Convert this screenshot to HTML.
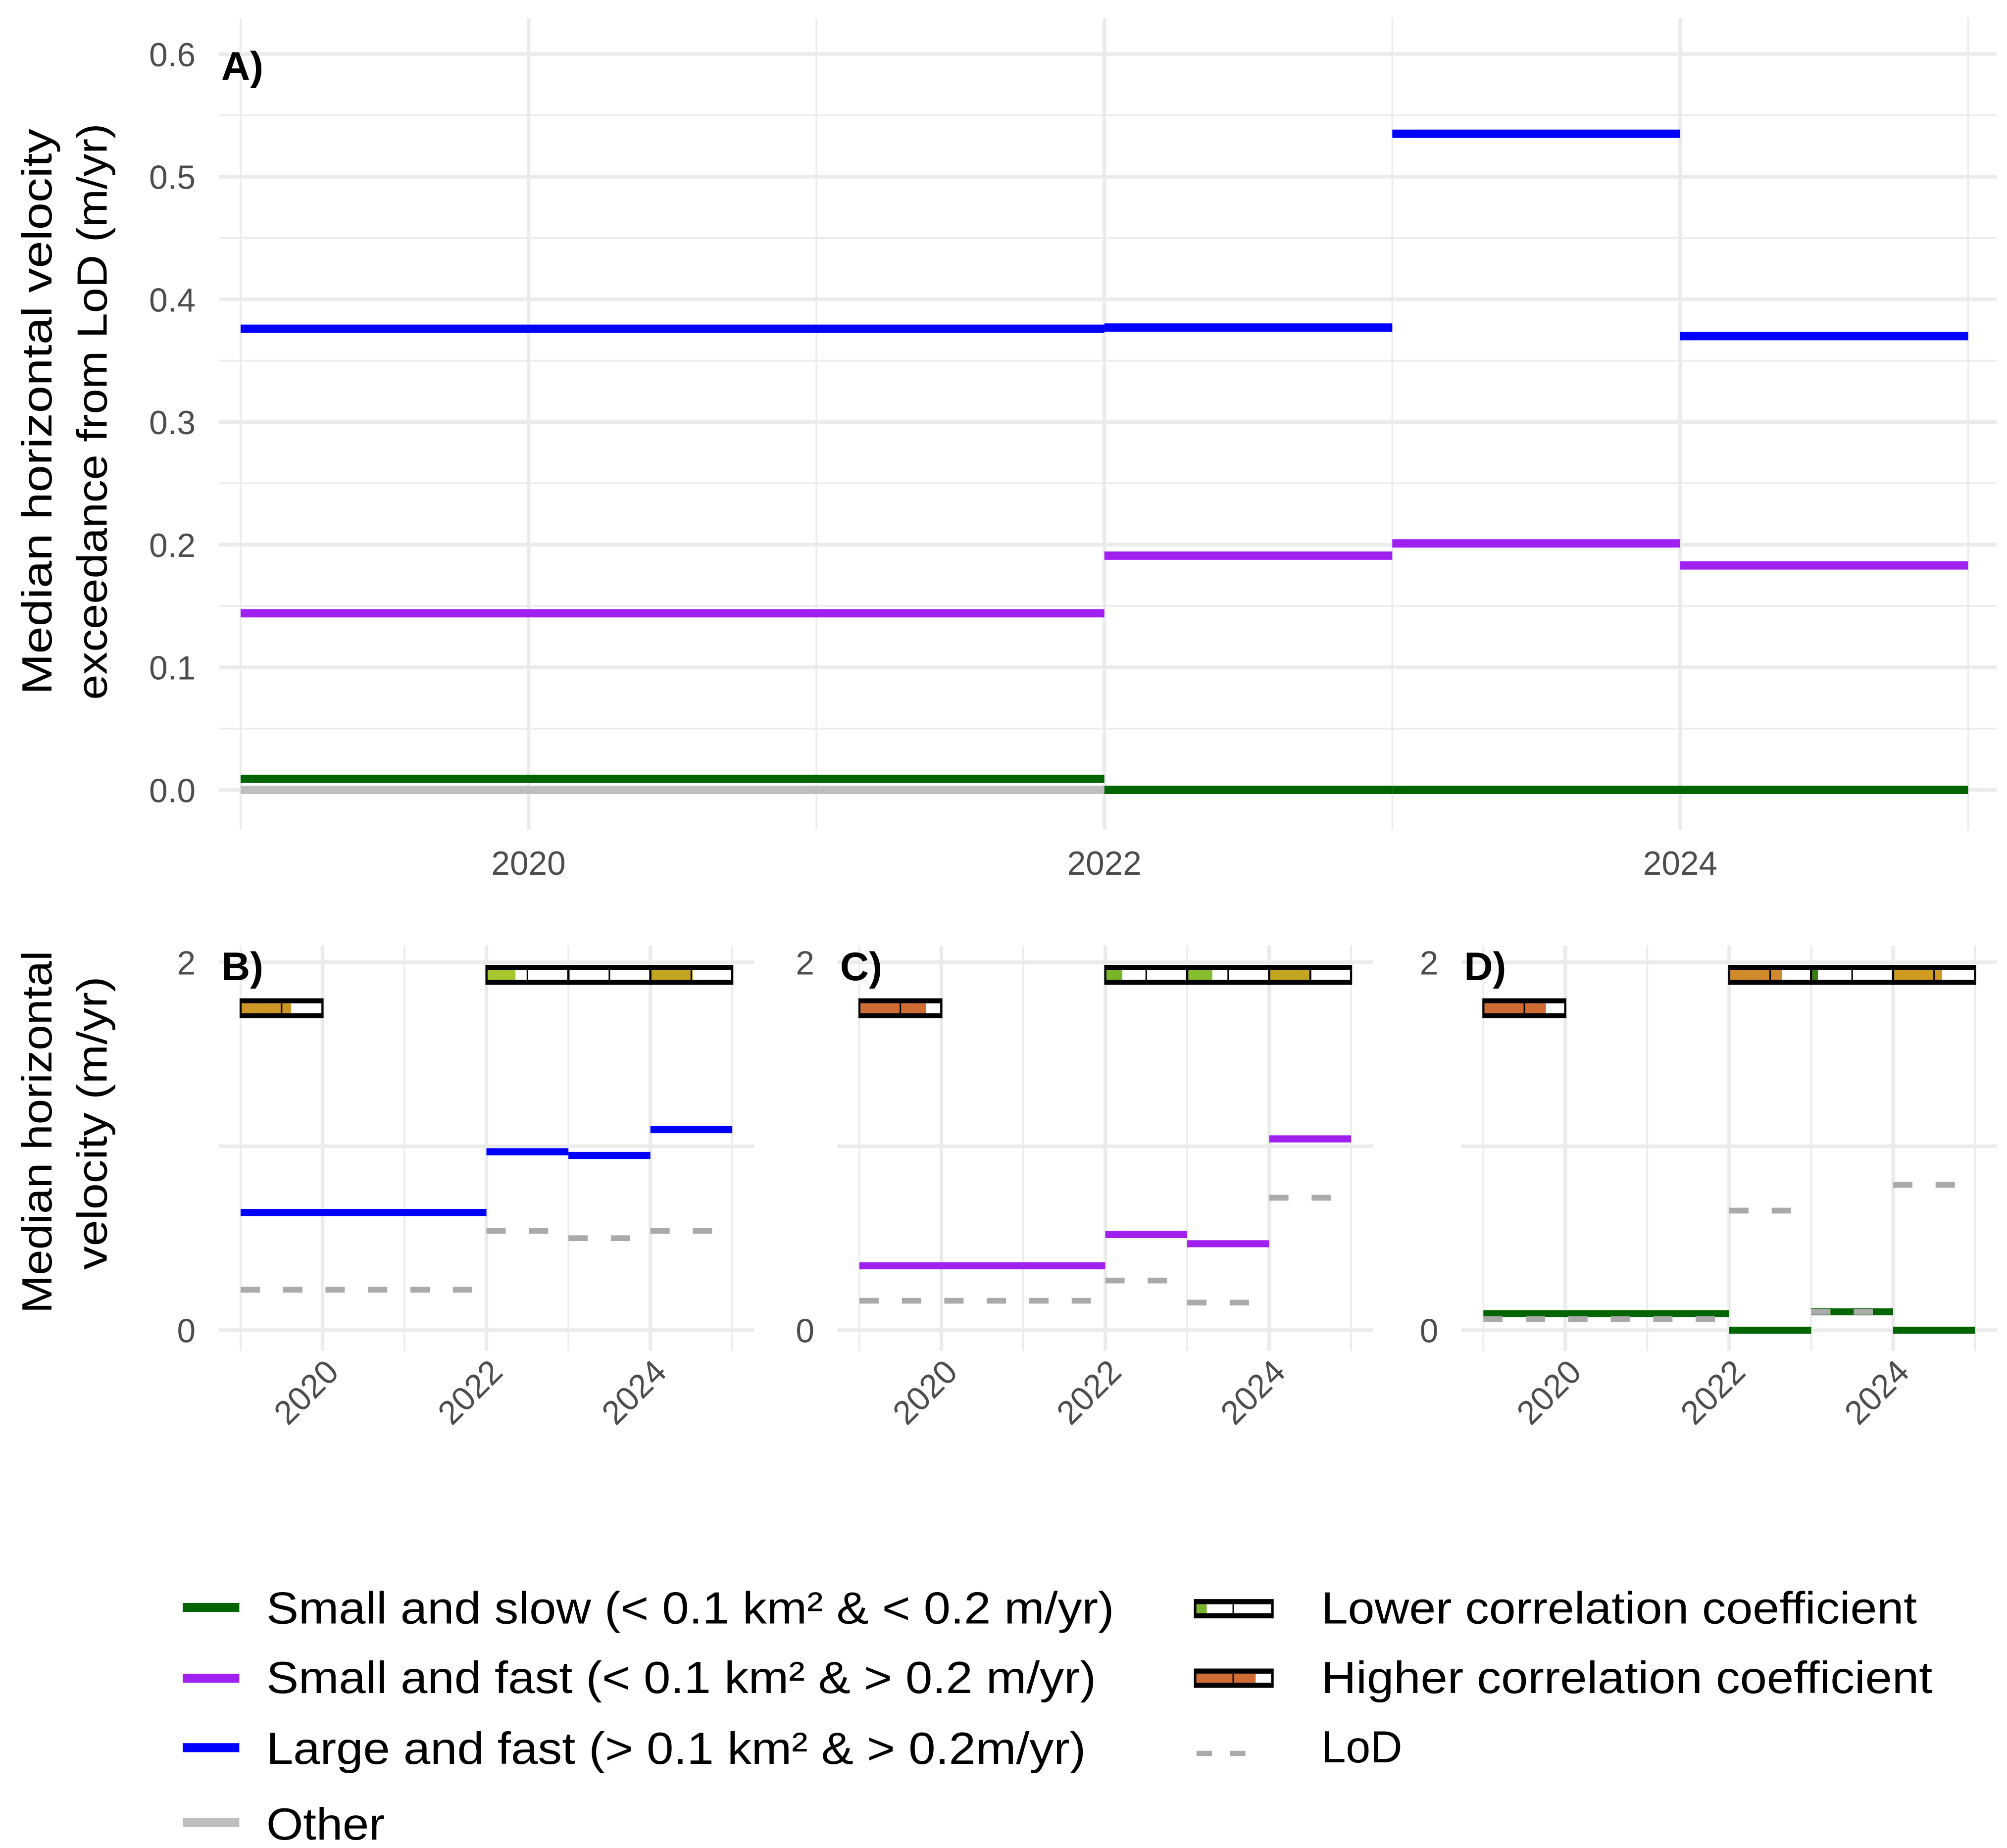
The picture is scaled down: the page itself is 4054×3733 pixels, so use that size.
<!DOCTYPE html>
<html><head><meta charset="utf-8"><style>html,body{margin:0;padding:0;background:#fff}svg{display:block}</style></head>
<body>
<svg id="chart" xmlns="http://www.w3.org/2000/svg" width="4054" height="3733" viewBox="0 0 1560 1436.5" font-family="'Liberation Sans', sans-serif">
<rect x="0" y="0" width="1560" height="1436.5" fill="#fff"/>
<g id="gA"></g>
<g id="gB"></g>
<g id="gC"></g>
<g id="gD"></g>
<text transform="translate(40,320) rotate(-90)" text-anchor="middle" font-size="33" textLength="440" lengthAdjust="spacingAndGlyphs">Median horizontal velocity</text>
<text transform="translate(83,320) rotate(-90)" text-anchor="middle" font-size="33" textLength="448" lengthAdjust="spacingAndGlyphs">exceedance from LoD (m/yr)</text>
<text transform="translate(40,880) rotate(-90)" text-anchor="middle" font-size="33" textLength="282" lengthAdjust="spacingAndGlyphs">Median horizontal</text>
<text transform="translate(83,873) rotate(-90)" text-anchor="middle" font-size="33" textLength="228" lengthAdjust="spacingAndGlyphs">velocity (m/yr)</text>
<g font-size="35">
  <rect x="142" y="1246" width="44" height="7" fill="#006400"/>
  <text x="207" y="1262" textLength="659" lengthAdjust="spacingAndGlyphs">Small and slow (&lt; 0.1 km² &amp; &lt; 0.2 m/yr)</text>
  <rect x="142" y="1301" width="44" height="7" fill="#a020f0"/>
  <text x="207" y="1316" textLength="645" lengthAdjust="spacingAndGlyphs">Small and fast (&lt; 0.1 km² &amp; &gt; 0.2 m/yr)</text>
  <rect x="142" y="1355" width="44" height="7" fill="#0000ff"/>
  <text x="207" y="1371" textLength="637" lengthAdjust="spacingAndGlyphs">Large and fast (&gt; 0.1 km² &amp; &gt; 0.2m/yr)</text>
  <rect x="142" y="1413" width="44" height="7" fill="#bebebe"/>
  <text x="207" y="1430" textLength="92" lengthAdjust="spacingAndGlyphs">Other</text>
  <g>
    <rect x="928" y="1243" width="62" height="15" fill="#000"/>
    <rect x="930" y="1247" width="58" height="7" fill="#fff"/>
    <rect x="930" y="1247" width="8" height="7" fill="#78b52a"/>
    <rect x="958" y="1247" width="1" height="7" fill="#000"/>
  </g>
  <text x="1027" y="1262" textLength="463" lengthAdjust="spacingAndGlyphs">Lower correlation coefficient</text>
  <g>
    <rect x="928" y="1297" width="62" height="15" fill="#000"/>
    <rect x="930" y="1301" width="58" height="7" fill="#fff"/>
    <rect x="930" y="1301" width="46" height="7" fill="#cf6c33"/>
    <rect x="958" y="1301" width="1" height="7" fill="#000"/>
  </g>
  <text x="1027" y="1316" textLength="475" lengthAdjust="spacingAndGlyphs">Higher correlation coefficient</text>
  <line x1="930" y1="1363" x2="980" y2="1363" stroke="#aaaaaa" stroke-width="4" stroke-dasharray="12 14"/>
  <text x="1027" y="1370" textLength="63" lengthAdjust="spacingAndGlyphs">LoD</text>
</g>
</svg>
<script>
const NS = 'http://www.w3.org/2000/svg';
// ---- Panel A data ----
const periodStartA = [2019, 2022, 2023, 2024];
const periodEndA = [2022, 2023, 2024, 2025];
const largeFastA = [0.376, 0.377, 0.535, 0.370];
const smallFastA = [0.144, 0.191, 0.201, 0.183];
const smallSlowA = [0.009, 0.0, 0.0, 0.0];
const otherStartA = [2019];
const otherEndA = [2022];
const otherA = [0.0];
const yTicksA = [0, 0.1, 0.2, 0.3, 0.4, 0.5, 0.6];
const yTickLabelsA = ['0.0', '0.1', '0.2', '0.3', '0.4', '0.5', '0.6'];
const xTicks = [2020, 2022, 2024];
const xTickLabels = ['2020', '2022', '2024'];
// ---- Lower panels data ----
const periodStart = [2019, 2022, 2023, 2024];
const periodEnd = [2022, 2023, 2024, 2025];
const velB = [0.64, 0.97, 0.95, 1.09];
const lodB = [0.22, 0.54, 0.50, 0.54];
const velC = [0.35, 0.52, 0.47, 1.04];
const lodC = [0.16, 0.27, 0.15, 0.72];
const velD = [0.09, 0.0, 0.10, 0.0];
const lodD = [0.06, 0.65, 0.10, 0.79];
const corrStart = [2019, 2022, 2023, 2024];
const corrEnd = [2020, 2023, 2024, 2025];
const corrB = [0.62, 0.35, 0.0, 0.52];
const corrC = [0.82, 0.2, 0.3, 0.52];
const corrD = [0.77, 0.65, 0.07, 0.6];
const corrColB = ['#cd9626', '#a6c72e', '#1a6b10', '#c4a520'];
const corrColC = ['#cf6c33', '#78b52a', '#86bd2c', '#c4a520'];
const corrColD = ['#cf6c33', '#d08a2a', '#35800e', '#cf9b20'];
const yTicksL = [0, 1, 2];
const yTickLabelsL = ['0', '', '2'];

function el(parent, tag, attrs) {
  const e = document.createElementNS(NS, tag);
  for (const k in attrs) e.setAttribute(k, attrs[k]);
  parent.appendChild(e);
  return e;
}
const GRID = '#ebebeb';

// ---------- Panel A ----------
(function () {
  const g = document.getElementById('gA');
  const x = t => 187 + (t - 2019) * 223.8;
  const y = v => 614 - v * 953.3;
  for (let i = 0; i < 13; i++) {
    const v = i * 0.05;
    const major = i % 2 === 0;
    const l = el(g, 'line', {x1: 170, x2: 1552, y1: y(v), y2: y(v), stroke: GRID, 'stroke-width': major ? 2.8 : 1.4});
    
    
  }
  for (let t = 2019; t <= 2025; t++) {
    const major = t % 2 === 0;
    const l = el(g, 'line', {x1: x(t), x2: x(t), y1: 14, y2: 645, stroke: GRID, 'stroke-width': major ? 2.8 : 1.4});
    
    
  }
  yTicksA.forEach((v, i) => {
    const t = el(g, 'text', {x: 152, y: y(v) + 9.5, 'text-anchor': 'end', 'font-size': 26, fill: '#4d4d4d'});
    t.textContent = yTickLabelsA[i];
    
    
  });
  xTicks.forEach((v, i) => {
    const t = el(g, 'text', {x: x(v), y: 680, 'text-anchor': 'middle', 'font-size': 26, fill: '#4d4d4d'});
    t.textContent = xTickLabels[i];
    
    
  });
  function seg(starts, ends, vals, color, name) {
    vals.forEach((v, i) => {
      const l = el(g, 'line', {x1: x(starts[i]), x2: x(ends[i]), y1: y(v), y2: y(v), stroke: color, 'stroke-width': 6.5});
      
      
    });
  }
  seg(otherStartA, otherEndA, otherA, '#bebebe', 'other-segment');
  seg(periodStartA, periodEndA, smallSlowA, '#006400', 'small-slow-segment');
  seg(periodStartA, periodEndA, smallFastA, '#a020f0', 'small-fast-segment');
  seg(periodStartA, periodEndA, largeFastA, '#0000ff', 'large-fast-segment');
  const lab = el(g, 'text', {x: 172, y: 62, 'font-size': 31, 'font-weight': 'bold'});
  lab.textContent = 'A)';
  
  
})();

// ---------- Lower panels ----------
function lowerPanel(id, letter, x0, yLabX, vel, lod, color, corr, corrCol) {
  const g = document.getElementById(id);
  const yr = 63.7;
  const x = t => x0 + (t - 2019) * yr;
  const y = v => 1034 - v * 143;
  const left = x0 - 17, right = x0 + 6 * yr + 17;
  yTicksL.forEach(v => {
    const l = el(g, 'line', {x1: left, x2: right, y1: y(v), y2: y(v), stroke: GRID, 'stroke-width': 2.8});
    
    
  });
  for (let t = 2019; t <= 2025; t++) {
    const major = t % 2 === 0;
    const l = el(g, 'line', {x1: x(t), x2: x(t), y1: 735, y2: 1050, stroke: GRID, 'stroke-width': major ? 2.8 : 1.4});
    
    
  }
  yTicksL.forEach((v, i) => {
    if (!yTickLabelsL[i]) return;
    const t = el(g, 'text', {x: yLabX, y: y(v) + 9.5, 'text-anchor': 'end', 'font-size': 26, fill: '#4d4d4d'});
    t.textContent = yTickLabelsL[i];
    
    
  });
  xTicks.forEach((v, i) => {
    const t = el(g, 'text', {x: 0, y: 0, 'text-anchor': 'end', 'font-size': 26, fill: '#4d4d4d', transform: 'translate(' + (x(v) + 14) + ',1068) rotate(-45)'});
    t.textContent = xTickLabels[i];
    
    
  });
  vel.forEach((v, i) => {
    const l = el(g, 'line', {x1: x(periodStart[i]), x2: x(periodEnd[i]), y1: y(v), y2: y(v), stroke: color, 'stroke-width': 5.5});
    
    
  });
  lod.forEach((v, i) => {
    const l = el(g, 'line', {x1: x(periodStart[i]), x2: x(periodEnd[i]) - 4, y1: y(v), y2: y(v), stroke: '#aaaaaa', 'stroke-width': 4.5, 'stroke-dasharray': '15 18'});
    
    
  });
  // correlation bars
  corr.forEach((r, i) => {
    const first = i === 0;
    const yTop = first ? 776 : 750;
    const x1 = x(corrStart[i]), x2 = x(corrEnd[i]);
    const gb = el(g, 'g', {});
    
    
    const h = 15.5;
    const innerTop = yTop + 3.9;
    const innerH = h - 7.8;
    el(gb, 'rect', {x: x1 - 0.8, y: yTop, width: x2 - x1 + 1.6, height: h, fill: '#000'});
    el(gb, 'rect', {x: x1 + 0.9, y: innerTop, width: x2 - x1 - 1.8, height: innerH, fill: '#fff'});
    el(gb, 'rect', {x: x1 + 0.9, y: innerTop, width: Math.max(0, (x2 - x1 - 1.8) * r), height: innerH, fill: corrCol[i]});
    el(gb, 'rect', {x: (x1 + x2) / 2 - 0.6, y: innerTop, width: 1.2, height: innerH, fill: '#000'});
  });
  const lab = el(g, 'text', {x: x0 - 15, y: 762, 'font-size': 31, 'font-weight': 'bold'});
  lab.textContent = letter;
  
  
}
lowerPanel('gB', 'B)', 187, 152, velB, lodB, '#0000ff', corrB, corrColB);
lowerPanel('gC', 'C)', 668, 633, velC, lodC, '#a020f0', corrC, corrColC);
lowerPanel('gD', 'D)', 1153, 1118, velD, lodD, '#006400', corrD, corrColD);
</script>
</body></html>
